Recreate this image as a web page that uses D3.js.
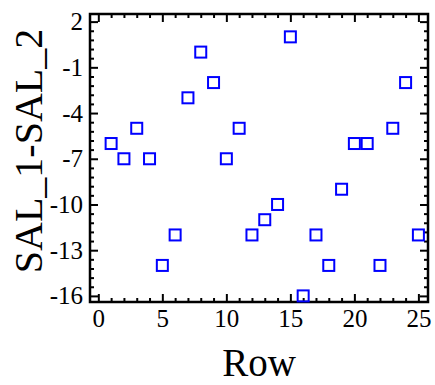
<!DOCTYPE html>
<html>
<head>
<meta charset="utf-8">
<script src="https://cdn.jsdelivr.net/npm/d3@7"></script>
<style>
  body { margin: 0; background: #fff; }
  svg text { font-family: "Liberation Serif", "DejaVu Serif", serif; fill: #000; }
</style>
</head>
<body>
<div id="chart"></div>
<script>
// data
const rows = [1, 2, 3, 4, 5, 6, 7, 8, 9, 10, 11, 12, 13, 14, 15, 16, 17, 18, 19, 20, 21, 22, 23, 24, 25]
const salDiff = [-6, -7, -5, -7, -14, -12, -3, 0, -2, -7, -5, -12, -11, -10, 1, -16, -12, -14, -9, -6, -6, -14, -5, -2, -12]
const xTicks = [0, 5, 10, 15, 20, 25]
const yTicks = [2, -1, -4, -7, -10, -13, -16]
const xLabel = 'Row'
const yLabel = 'SAL_1-SAL_2'

const width = 435
const height = 385
const margin = { top: 14, right: 7, bottom: 83, left: 90 }
const innerW = width - margin.left - margin.right
const innerH = height - margin.top - margin.bottom

const svg = d3.select('#chart')
  .append('svg')
  .attr('width', width)
  .attr('height', height)

const g = svg.append('g')
  .attr('transform', 'translate(' + margin.left + ',' + margin.top + ')')

// scales
const xScale = d3.scaleLinear()
  .domain([-0.65, 25.75])
  .range([0, innerW])
const yScale = d3.scaleLinear()
  .domain([-16.4, 2.5])
  .range([innerH, 0])

// minor ticks: every 1 on x, every 0.6 on y
const xMinor = d3.range(0, 26, 1).filter(v => xTicks.indexOf(v) < 0)
const yMinor = d3.range(2, -16.5, -0.6).map(v => +v.toFixed(2)).filter(v => yTicks.indexOf(v) < 0)

function drawTicks (axisFn, scale, values, size, transform, labels) {
  const axis = axisFn(scale)
    .tickValues(values)
    .tickSizeInner(-size)
    .tickSizeOuter(0)
    .tickPadding(labels ? 7 : 0)
    .tickFormat(labels ? d => String(d) : '')
  const sel = g.append('g')
    .attr('transform', transform)
    .call(axis)
  sel.select('.domain').remove()
  sel.selectAll('line').attr('stroke', '#000').attr('stroke-width', 2)
  sel.selectAll('text').attr('font-size', 25).attr('font-family', '"Liberation Serif", serif')
  return sel
}

// bottom
drawTicks(d3.axisBottom, xScale, xTicks, 8, 'translate(0,' + innerH + ')', true)
drawTicks(d3.axisBottom, xScale, xMinor, 4, 'translate(0,' + innerH + ')', false)
// top
drawTicks(d3.axisTop, xScale, xTicks, 8, 'translate(0,0)', false)
drawTicks(d3.axisTop, xScale, xMinor, 4, 'translate(0,0)', false)
// left
drawTicks(d3.axisLeft, yScale, yTicks, 8, 'translate(0,0)', true)
drawTicks(d3.axisLeft, yScale, yMinor, 4, 'translate(0,0)', false)
// right
drawTicks(d3.axisRight, yScale, yTicks, 8, 'translate(' + innerW + ',0)', false)
drawTicks(d3.axisRight, yScale, yMinor, 4, 'translate(' + innerW + ',0)', false)

// frame
g.append('rect')
  .attr('x', 0)
  .attr('y', 0)
  .attr('width', innerW)
  .attr('height', innerH)
  .attr('fill', 'none')
  .attr('stroke', '#000')
  .attr('stroke-width', 2.5)

// points
const marker = 11
g.append('g')
  .selectAll('rect')
  .data(rows.map((r, i) => [r, salDiff[i]]))
  .enter()
  .append('rect')
  .attr('x', d => xScale(d[0]) - marker / 2)
  .attr('y', d => yScale(d[1]) - marker / 2)
  .attr('width', marker)
  .attr('height', marker)
  .attr('fill', 'none')
  .attr('stroke', '#0000ff')
  .attr('stroke-width', 2)

// axis titles
svg.append('text')
  .attr('x', margin.left + innerW / 2)
  .attr('y', 376)
  .attr('text-anchor', 'middle')
  .attr('font-size', 39)
  .text(xLabel)

svg.append('text')
  .attr('transform', 'translate(42,151) rotate(-90)')
  .attr('text-anchor', 'middle')
  .attr('font-size', 40)
  .text(yLabel)
</script>
</body>
</html>
